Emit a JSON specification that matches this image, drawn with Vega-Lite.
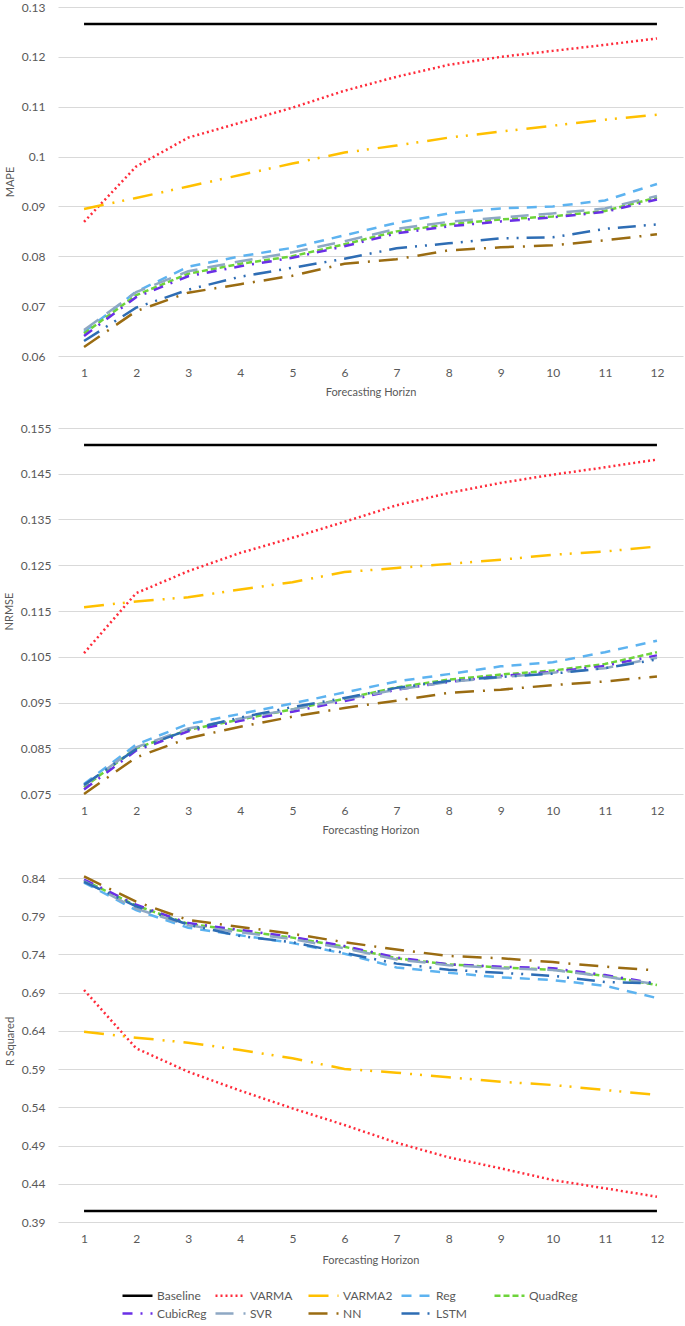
{
"$schema": "https://vega.github.io/schema/vega-lite/v6.json",
"padding": {"left": 3, "top": 1, "right": 2, "bottom": 0},
"data": {"values": [
{"metric":"MAPE","model":"Baseline","h":1,"value":0.1266},{"metric":"MAPE","model":"Baseline","h":2,"value":0.1266},{"metric":"MAPE","model":"Baseline","h":3,"value":0.1266},{"metric":"MAPE","model":"Baseline","h":4,"value":0.1266},{"metric":"MAPE","model":"Baseline","h":5,"value":0.1266},{"metric":"MAPE","model":"Baseline","h":6,"value":0.1266},{"metric":"MAPE","model":"Baseline","h":7,"value":0.1266},{"metric":"MAPE","model":"Baseline","h":8,"value":0.1266},{"metric":"MAPE","model":"Baseline","h":9,"value":0.1266},{"metric":"MAPE","model":"Baseline","h":10,"value":0.1266},{"metric":"MAPE","model":"Baseline","h":11,"value":0.1266},{"metric":"MAPE","model":"Baseline","h":12,"value":0.1266},
{"metric":"MAPE","model":"VARMA","h":1,"value":0.0869},{"metric":"MAPE","model":"VARMA","h":2,"value":0.0980},{"metric":"MAPE","model":"VARMA","h":3,"value":0.1038},{"metric":"MAPE","model":"VARMA","h":4,"value":0.1068},{"metric":"MAPE","model":"VARMA","h":5,"value":0.1098},{"metric":"MAPE","model":"VARMA","h":6,"value":0.1132},{"metric":"MAPE","model":"VARMA","h":7,"value":0.1160},{"metric":"MAPE","model":"VARMA","h":8,"value":0.1184},{"metric":"MAPE","model":"VARMA","h":9,"value":0.1200},{"metric":"MAPE","model":"VARMA","h":10,"value":0.1212},{"metric":"MAPE","model":"VARMA","h":11,"value":0.1224},{"metric":"MAPE","model":"VARMA","h":12,"value":0.1237},
{"metric":"MAPE","model":"VARMA2","h":1,"value":0.0895},{"metric":"MAPE","model":"VARMA2","h":2,"value":0.0917},{"metric":"MAPE","model":"VARMA2","h":3,"value":0.0940},{"metric":"MAPE","model":"VARMA2","h":4,"value":0.0963},{"metric":"MAPE","model":"VARMA2","h":5,"value":0.0986},{"metric":"MAPE","model":"VARMA2","h":6,"value":0.1008},{"metric":"MAPE","model":"VARMA2","h":7,"value":0.1022},{"metric":"MAPE","model":"VARMA2","h":8,"value":0.1038},{"metric":"MAPE","model":"VARMA2","h":9,"value":0.1050},{"metric":"MAPE","model":"VARMA2","h":10,"value":0.1062},{"metric":"MAPE","model":"VARMA2","h":11,"value":0.1074},{"metric":"MAPE","model":"VARMA2","h":12,"value":0.1084},
{"metric":"MAPE","model":"Reg","h":1,"value":0.0648},{"metric":"MAPE","model":"Reg","h":2,"value":0.0729},{"metric":"MAPE","model":"Reg","h":3,"value":0.0779},{"metric":"MAPE","model":"Reg","h":4,"value":0.0800},{"metric":"MAPE","model":"Reg","h":5,"value":0.0817},{"metric":"MAPE","model":"Reg","h":6,"value":0.0842},{"metric":"MAPE","model":"Reg","h":7,"value":0.0867},{"metric":"MAPE","model":"Reg","h":8,"value":0.0886},{"metric":"MAPE","model":"Reg","h":9,"value":0.0896},{"metric":"MAPE","model":"Reg","h":10,"value":0.0900},{"metric":"MAPE","model":"Reg","h":11,"value":0.0912},{"metric":"MAPE","model":"Reg","h":12,"value":0.0945},
{"metric":"MAPE","model":"QuadReg","h":1,"value":0.0645},{"metric":"MAPE","model":"QuadReg","h":2,"value":0.0722},{"metric":"MAPE","model":"QuadReg","h":3,"value":0.0765},{"metric":"MAPE","model":"QuadReg","h":4,"value":0.0785},{"metric":"MAPE","model":"QuadReg","h":5,"value":0.0800},{"metric":"MAPE","model":"QuadReg","h":6,"value":0.0824},{"metric":"MAPE","model":"QuadReg","h":7,"value":0.0850},{"metric":"MAPE","model":"QuadReg","h":8,"value":0.0864},{"metric":"MAPE","model":"QuadReg","h":9,"value":0.0874},{"metric":"MAPE","model":"QuadReg","h":10,"value":0.0880},{"metric":"MAPE","model":"QuadReg","h":11,"value":0.0891},{"metric":"MAPE","model":"QuadReg","h":12,"value":0.0918},
{"metric":"MAPE","model":"CubicReg","h":1,"value":0.0640},{"metric":"MAPE","model":"CubicReg","h":2,"value":0.0718},{"metric":"MAPE","model":"CubicReg","h":3,"value":0.0760},{"metric":"MAPE","model":"CubicReg","h":4,"value":0.0780},{"metric":"MAPE","model":"CubicReg","h":5,"value":0.0797},{"metric":"MAPE","model":"CubicReg","h":6,"value":0.0820},{"metric":"MAPE","model":"CubicReg","h":7,"value":0.0846},{"metric":"MAPE","model":"CubicReg","h":8,"value":0.0860},{"metric":"MAPE","model":"CubicReg","h":9,"value":0.0870},{"metric":"MAPE","model":"CubicReg","h":10,"value":0.0878},{"metric":"MAPE","model":"CubicReg","h":11,"value":0.0889},{"metric":"MAPE","model":"CubicReg","h":12,"value":0.0914},
{"metric":"MAPE","model":"SVR","h":1,"value":0.0652},{"metric":"MAPE","model":"SVR","h":2,"value":0.0728},{"metric":"MAPE","model":"SVR","h":3,"value":0.0770},{"metric":"MAPE","model":"SVR","h":4,"value":0.0790},{"metric":"MAPE","model":"SVR","h":5,"value":0.0808},{"metric":"MAPE","model":"SVR","h":6,"value":0.0830},{"metric":"MAPE","model":"SVR","h":7,"value":0.0855},{"metric":"MAPE","model":"SVR","h":8,"value":0.0869},{"metric":"MAPE","model":"SVR","h":9,"value":0.0878},{"metric":"MAPE","model":"SVR","h":10,"value":0.0886},{"metric":"MAPE","model":"SVR","h":11,"value":0.0896},{"metric":"MAPE","model":"SVR","h":12,"value":0.0921},
{"metric":"MAPE","model":"NN","h":1,"value":0.0618},{"metric":"MAPE","model":"NN","h":2,"value":0.0690},{"metric":"MAPE","model":"NN","h":3,"value":0.0727},{"metric":"MAPE","model":"NN","h":4,"value":0.0744},{"metric":"MAPE","model":"NN","h":5,"value":0.0761},{"metric":"MAPE","model":"NN","h":6,"value":0.0785},{"metric":"MAPE","model":"NN","h":7,"value":0.0794},{"metric":"MAPE","model":"NN","h":8,"value":0.0812},{"metric":"MAPE","model":"NN","h":9,"value":0.0818},{"metric":"MAPE","model":"NN","h":10,"value":0.0822},{"metric":"MAPE","model":"NN","h":11,"value":0.0832},{"metric":"MAPE","model":"NN","h":12,"value":0.0844},
{"metric":"MAPE","model":"LSTM","h":1,"value":0.0630},{"metric":"MAPE","model":"LSTM","h":2,"value":0.0697},{"metric":"MAPE","model":"LSTM","h":3,"value":0.0733},{"metric":"MAPE","model":"LSTM","h":4,"value":0.0759},{"metric":"MAPE","model":"LSTM","h":5,"value":0.0777},{"metric":"MAPE","model":"LSTM","h":6,"value":0.0795},{"metric":"MAPE","model":"LSTM","h":7,"value":0.0816},{"metric":"MAPE","model":"LSTM","h":8,"value":0.0826},{"metric":"MAPE","model":"LSTM","h":9,"value":0.0836},{"metric":"MAPE","model":"LSTM","h":10,"value":0.0838},{"metric":"MAPE","model":"LSTM","h":11,"value":0.0855},{"metric":"MAPE","model":"LSTM","h":12,"value":0.0864},
{"metric":"NRMSE","model":"Baseline","h":1,"value":0.1513},{"metric":"NRMSE","model":"Baseline","h":2,"value":0.1513},{"metric":"NRMSE","model":"Baseline","h":3,"value":0.1513},{"metric":"NRMSE","model":"Baseline","h":4,"value":0.1513},{"metric":"NRMSE","model":"Baseline","h":5,"value":0.1513},{"metric":"NRMSE","model":"Baseline","h":6,"value":0.1513},{"metric":"NRMSE","model":"Baseline","h":7,"value":0.1513},{"metric":"NRMSE","model":"Baseline","h":8,"value":0.1513},{"metric":"NRMSE","model":"Baseline","h":9,"value":0.1513},{"metric":"NRMSE","model":"Baseline","h":10,"value":0.1513},{"metric":"NRMSE","model":"Baseline","h":11,"value":0.1513},{"metric":"NRMSE","model":"Baseline","h":12,"value":0.1513},
{"metric":"NRMSE","model":"VARMA","h":1,"value":0.1058},{"metric":"NRMSE","model":"VARMA","h":2,"value":0.1189},{"metric":"NRMSE","model":"VARMA","h":3,"value":0.1237},{"metric":"NRMSE","model":"VARMA","h":4,"value":0.1277},{"metric":"NRMSE","model":"VARMA","h":5,"value":0.1310},{"metric":"NRMSE","model":"VARMA","h":6,"value":0.1345},{"metric":"NRMSE","model":"VARMA","h":7,"value":0.1381},{"metric":"NRMSE","model":"VARMA","h":8,"value":0.1408},{"metric":"NRMSE","model":"VARMA","h":9,"value":0.1430},{"metric":"NRMSE","model":"VARMA","h":10,"value":0.1448},{"metric":"NRMSE","model":"VARMA","h":11,"value":0.1464},{"metric":"NRMSE","model":"VARMA","h":12,"value":0.1481},
{"metric":"NRMSE","model":"VARMA2","h":1,"value":0.1158},{"metric":"NRMSE","model":"VARMA2","h":2,"value":0.1171},{"metric":"NRMSE","model":"VARMA2","h":3,"value":0.1180},{"metric":"NRMSE","model":"VARMA2","h":4,"value":0.1197},{"metric":"NRMSE","model":"VARMA2","h":5,"value":0.1213},{"metric":"NRMSE","model":"VARMA2","h":6,"value":0.1235},{"metric":"NRMSE","model":"VARMA2","h":7,"value":0.1244},{"metric":"NRMSE","model":"VARMA2","h":8,"value":0.1253},{"metric":"NRMSE","model":"VARMA2","h":9,"value":0.1262},{"metric":"NRMSE","model":"VARMA2","h":10,"value":0.1273},{"metric":"NRMSE","model":"VARMA2","h":11,"value":0.1280},{"metric":"NRMSE","model":"VARMA2","h":12,"value":0.1291},
{"metric":"NRMSE","model":"Reg","h":1,"value":0.0772},{"metric":"NRMSE","model":"Reg","h":2,"value":0.0858},{"metric":"NRMSE","model":"Reg","h":3,"value":0.0903},{"metric":"NRMSE","model":"Reg","h":4,"value":0.0925},{"metric":"NRMSE","model":"Reg","h":5,"value":0.0948},{"metric":"NRMSE","model":"Reg","h":6,"value":0.0972},{"metric":"NRMSE","model":"Reg","h":7,"value":0.0996},{"metric":"NRMSE","model":"Reg","h":8,"value":0.1012},{"metric":"NRMSE","model":"Reg","h":9,"value":0.1029},{"metric":"NRMSE","model":"Reg","h":10,"value":0.1038},{"metric":"NRMSE","model":"Reg","h":11,"value":0.1060},{"metric":"NRMSE","model":"Reg","h":12,"value":0.1085},
{"metric":"NRMSE","model":"QuadReg","h":1,"value":0.0765},{"metric":"NRMSE","model":"QuadReg","h":2,"value":0.0850},{"metric":"NRMSE","model":"QuadReg","h":3,"value":0.0890},{"metric":"NRMSE","model":"QuadReg","h":4,"value":0.0913},{"metric":"NRMSE","model":"QuadReg","h":5,"value":0.0935},{"metric":"NRMSE","model":"QuadReg","h":6,"value":0.0958},{"metric":"NRMSE","model":"QuadReg","h":7,"value":0.0983},{"metric":"NRMSE","model":"QuadReg","h":8,"value":0.1000},{"metric":"NRMSE","model":"QuadReg","h":9,"value":0.1011},{"metric":"NRMSE","model":"QuadReg","h":10,"value":0.1020},{"metric":"NRMSE","model":"QuadReg","h":11,"value":0.1034},{"metric":"NRMSE","model":"QuadReg","h":12,"value":0.1060},
{"metric":"NRMSE","model":"CubicReg","h":1,"value":0.0760},{"metric":"NRMSE","model":"CubicReg","h":2,"value":0.0845},{"metric":"NRMSE","model":"CubicReg","h":3,"value":0.0887},{"metric":"NRMSE","model":"CubicReg","h":4,"value":0.0910},{"metric":"NRMSE","model":"CubicReg","h":5,"value":0.0930},{"metric":"NRMSE","model":"CubicReg","h":6,"value":0.0953},{"metric":"NRMSE","model":"CubicReg","h":7,"value":0.0978},{"metric":"NRMSE","model":"CubicReg","h":8,"value":0.0995},{"metric":"NRMSE","model":"CubicReg","h":9,"value":0.1008},{"metric":"NRMSE","model":"CubicReg","h":10,"value":0.1017},{"metric":"NRMSE","model":"CubicReg","h":11,"value":0.1030},{"metric":"NRMSE","model":"CubicReg","h":12,"value":0.1053},
{"metric":"NRMSE","model":"SVR","h":1,"value":0.0768},{"metric":"NRMSE","model":"SVR","h":2,"value":0.0852},{"metric":"NRMSE","model":"SVR","h":3,"value":0.0893},{"metric":"NRMSE","model":"SVR","h":4,"value":0.0915},{"metric":"NRMSE","model":"SVR","h":5,"value":0.0935},{"metric":"NRMSE","model":"SVR","h":6,"value":0.0957},{"metric":"NRMSE","model":"SVR","h":7,"value":0.0978},{"metric":"NRMSE","model":"SVR","h":8,"value":0.0995},{"metric":"NRMSE","model":"SVR","h":9,"value":0.1005},{"metric":"NRMSE","model":"SVR","h":10,"value":0.1015},{"metric":"NRMSE","model":"SVR","h":11,"value":0.1025},{"metric":"NRMSE","model":"SVR","h":12,"value":0.1048},
{"metric":"NRMSE","model":"NN","h":1,"value":0.0750},{"metric":"NRMSE","model":"NN","h":2,"value":0.0830},{"metric":"NRMSE","model":"NN","h":3,"value":0.0872},{"metric":"NRMSE","model":"NN","h":4,"value":0.0897},{"metric":"NRMSE","model":"NN","h":5,"value":0.0919},{"metric":"NRMSE","model":"NN","h":6,"value":0.0938},{"metric":"NRMSE","model":"NN","h":7,"value":0.0954},{"metric":"NRMSE","model":"NN","h":8,"value":0.0971},{"metric":"NRMSE","model":"NN","h":9,"value":0.0978},{"metric":"NRMSE","model":"NN","h":10,"value":0.0988},{"metric":"NRMSE","model":"NN","h":11,"value":0.0996},{"metric":"NRMSE","model":"NN","h":12,"value":0.1007},
{"metric":"NRMSE","model":"LSTM","h":1,"value":0.0770},{"metric":"NRMSE","model":"LSTM","h":2,"value":0.0848},{"metric":"NRMSE","model":"LSTM","h":3,"value":0.0890},{"metric":"NRMSE","model":"LSTM","h":4,"value":0.0917},{"metric":"NRMSE","model":"LSTM","h":5,"value":0.0940},{"metric":"NRMSE","model":"LSTM","h":6,"value":0.0960},{"metric":"NRMSE","model":"LSTM","h":7,"value":0.0982},{"metric":"NRMSE","model":"LSTM","h":8,"value":0.0997},{"metric":"NRMSE","model":"LSTM","h":9,"value":0.1006},{"metric":"NRMSE","model":"LSTM","h":10,"value":0.1013},{"metric":"NRMSE","model":"LSTM","h":11,"value":0.1025},{"metric":"NRMSE","model":"LSTM","h":12,"value":0.1044},
{"metric":"R2","model":"Baseline","h":1,"value":0.4045},{"metric":"R2","model":"Baseline","h":2,"value":0.4045},{"metric":"R2","model":"Baseline","h":3,"value":0.4045},{"metric":"R2","model":"Baseline","h":4,"value":0.4045},{"metric":"R2","model":"Baseline","h":5,"value":0.4045},{"metric":"R2","model":"Baseline","h":6,"value":0.4045},{"metric":"R2","model":"Baseline","h":7,"value":0.4045},{"metric":"R2","model":"Baseline","h":8,"value":0.4045},{"metric":"R2","model":"Baseline","h":9,"value":0.4045},{"metric":"R2","model":"Baseline","h":10,"value":0.4045},{"metric":"R2","model":"Baseline","h":11,"value":0.4045},{"metric":"R2","model":"Baseline","h":12,"value":0.4045},
{"metric":"R2","model":"VARMA","h":1,"value":0.6935},{"metric":"R2","model":"VARMA","h":2,"value":0.6172},{"metric":"R2","model":"VARMA","h":3,"value":0.5866},{"metric":"R2","model":"VARMA","h":4,"value":0.5618},{"metric":"R2","model":"VARMA","h":5,"value":0.5387},{"metric":"R2","model":"VARMA","h":6,"value":0.5169},{"metric":"R2","model":"VARMA","h":7,"value":0.4937},{"metric":"R2","model":"VARMA","h":8,"value":0.4746},{"metric":"R2","model":"VARMA","h":9,"value":0.4602},{"metric":"R2","model":"VARMA","h":10,"value":0.4449},{"metric":"R2","model":"VARMA","h":11,"value":0.4341},{"metric":"R2","model":"VARMA","h":12,"value":0.4231},
{"metric":"R2","model":"VARMA2","h":1,"value":0.6390},{"metric":"R2","model":"VARMA2","h":2,"value":0.6311},{"metric":"R2","model":"VARMA2","h":3,"value":0.6246},{"metric":"R2","model":"VARMA2","h":4,"value":0.6150},{"metric":"R2","model":"VARMA2","h":5,"value":0.6041},{"metric":"R2","model":"VARMA2","h":6,"value":0.5902},{"metric":"R2","model":"VARMA2","h":7,"value":0.5853},{"metric":"R2","model":"VARMA2","h":8,"value":0.5793},{"metric":"R2","model":"VARMA2","h":9,"value":0.5735},{"metric":"R2","model":"VARMA2","h":10,"value":0.5692},{"metric":"R2","model":"VARMA2","h":11,"value":0.5627},{"metric":"R2","model":"VARMA2","h":12,"value":0.5561},
{"metric":"R2","model":"Reg","h":1,"value":0.834},{"metric":"R2","model":"Reg","h":2,"value":0.798},{"metric":"R2","model":"Reg","h":3,"value":0.775},{"metric":"R2","model":"Reg","h":4,"value":0.765},{"metric":"R2","model":"Reg","h":5,"value":0.755},{"metric":"R2","model":"Reg","h":6,"value":0.741},{"metric":"R2","model":"Reg","h":7,"value":0.723},{"metric":"R2","model":"Reg","h":8,"value":0.716},{"metric":"R2","model":"Reg","h":9,"value":0.710},{"metric":"R2","model":"Reg","h":10,"value":0.7065},{"metric":"R2","model":"Reg","h":11,"value":0.699},{"metric":"R2","model":"Reg","h":12,"value":0.683},
{"metric":"R2","model":"QuadReg","h":1,"value":0.837},{"metric":"R2","model":"QuadReg","h":2,"value":0.804},{"metric":"R2","model":"QuadReg","h":3,"value":0.780},{"metric":"R2","model":"QuadReg","h":4,"value":0.771},{"metric":"R2","model":"QuadReg","h":5,"value":0.762},{"metric":"R2","model":"QuadReg","h":6,"value":0.750},{"metric":"R2","model":"QuadReg","h":7,"value":0.735},{"metric":"R2","model":"QuadReg","h":8,"value":0.727},{"metric":"R2","model":"QuadReg","h":9,"value":0.723},{"metric":"R2","model":"QuadReg","h":10,"value":0.720},{"metric":"R2","model":"QuadReg","h":11,"value":0.712},{"metric":"R2","model":"QuadReg","h":12,"value":0.700},
{"metric":"R2","model":"CubicReg","h":1,"value":0.838},{"metric":"R2","model":"CubicReg","h":2,"value":0.805},{"metric":"R2","model":"CubicReg","h":3,"value":0.781},{"metric":"R2","model":"CubicReg","h":4,"value":0.772},{"metric":"R2","model":"CubicReg","h":5,"value":0.763},{"metric":"R2","model":"CubicReg","h":6,"value":0.751},{"metric":"R2","model":"CubicReg","h":7,"value":0.736},{"metric":"R2","model":"CubicReg","h":8,"value":0.727},{"metric":"R2","model":"CubicReg","h":9,"value":0.724},{"metric":"R2","model":"CubicReg","h":10,"value":0.722},{"metric":"R2","model":"CubicReg","h":11,"value":0.713},{"metric":"R2","model":"CubicReg","h":12,"value":0.702},
{"metric":"R2","model":"SVR","h":1,"value":0.836},{"metric":"R2","model":"SVR","h":2,"value":0.800},{"metric":"R2","model":"SVR","h":3,"value":0.778},{"metric":"R2","model":"SVR","h":4,"value":0.769},{"metric":"R2","model":"SVR","h":5,"value":0.760},{"metric":"R2","model":"SVR","h":6,"value":0.748},{"metric":"R2","model":"SVR","h":7,"value":0.7335},{"metric":"R2","model":"SVR","h":8,"value":0.726},{"metric":"R2","model":"SVR","h":9,"value":0.722},{"metric":"R2","model":"SVR","h":10,"value":0.7196},{"metric":"R2","model":"SVR","h":11,"value":0.711},{"metric":"R2","model":"SVR","h":12,"value":0.701},
{"metric":"R2","model":"NN","h":1,"value":0.842},{"metric":"R2","model":"NN","h":2,"value":0.809},{"metric":"R2","model":"NN","h":3,"value":0.785},{"metric":"R2","model":"NN","h":4,"value":0.776},{"metric":"R2","model":"NN","h":5,"value":0.767},{"metric":"R2","model":"NN","h":6,"value":0.756},{"metric":"R2","model":"NN","h":7,"value":0.7465},{"metric":"R2","model":"NN","h":8,"value":0.738},{"metric":"R2","model":"NN","h":9,"value":0.735},{"metric":"R2","model":"NN","h":10,"value":0.730},{"metric":"R2","model":"NN","h":11,"value":0.724},{"metric":"R2","model":"NN","h":12,"value":0.719},
{"metric":"R2","model":"LSTM","h":1,"value":0.835},{"metric":"R2","model":"LSTM","h":2,"value":0.803},{"metric":"R2","model":"LSTM","h":3,"value":0.779},{"metric":"R2","model":"LSTM","h":4,"value":0.764},{"metric":"R2","model":"LSTM","h":5,"value":0.756},{"metric":"R2","model":"LSTM","h":6,"value":0.742},{"metric":"R2","model":"LSTM","h":7,"value":0.728},{"metric":"R2","model":"LSTM","h":8,"value":0.720},{"metric":"R2","model":"LSTM","h":9,"value":0.716},{"metric":"R2","model":"LSTM","h":10,"value":0.712},{"metric":"R2","model":"LSTM","h":11,"value":0.704},{"metric":"R2","model":"LSTM","h":12,"value":0.702}
]},
"columns": 1,
"align": "none",
"spacing": 25,
"concat": [
{
 "width": 625, "height": 349,
 "transform": [{"filter": {"field": "metric", "equal": "MAPE"}}],
 "mark": {"type": "line", "strokeWidth": 2.5},
 "encoding": {
  "x": {"field": "h", "type": "ordinal", "scale": {"type": "point", "padding": 0.5}, "axis": {"title": "Forecasting Horizn"}},
  "y": {"field": "value", "type": "quantitative", "scale": {"domain": [0.06, 0.13], "nice": false, "zero": false}, "axis": {"title": "MAPE", "values": [0.06, 0.07, 0.08, 0.09, 0.1, 0.11, 0.12, 0.13], "format": ".4~g"}},
  "color": {"field": "model", "type": "nominal", "scale": {"domain": ["Baseline","VARMA","VARMA2","Reg","QuadReg","CubicReg","SVR","NN","LSTM"], "range": ["#000000","#FF2B3A","#FFC000","#5DB3F0","#6DD43A","#6A2FE6","#8EA8C4","#9A6C12","#2E6DB4"]}, "legend": {"title": null, "symbolType": "M-1.5,0H1.5", "direction": "horizontal"}},
  "strokeDash": {"field": "model", "type": "nominal", "scale": {"domain": ["Baseline","VARMA","VARMA2","Reg","QuadReg","CubicReg","SVR","NN","LSTM"], "range": [[1,0],[2,3],[20,9,2,8,2,9],[10,8],[6,3],[10,8,2,8],[18,10],[19,9,2,9],[18,8,2,8,2,8]]}, "legend": {"title": null, "symbolType": "M-1.5,0H1.5", "direction": "horizontal"}}
 }
},
{
 "width": 625, "height": 366,
 "transform": [{"filter": {"field": "metric", "equal": "NRMSE"}}],
 "mark": {"type": "line", "strokeWidth": 2.5},
 "encoding": {
  "x": {"field": "h", "type": "ordinal", "scale": {"type": "point", "padding": 0.5}, "axis": {"title": "Forecasting Horizon"}},
  "y": {"field": "value", "type": "quantitative", "scale": {"domain": [0.075, 0.155], "nice": false, "zero": false}, "axis": {"title": "NRMSE", "labelPadding": 7, "values": [0.075, 0.085, 0.095, 0.105, 0.115, 0.125, 0.135, 0.145, 0.155], "format": ".4~g"}},
  "color": {"field": "model", "type": "nominal", "scale": {"domain": ["Baseline","VARMA","VARMA2","Reg","QuadReg","CubicReg","SVR","NN","LSTM"], "range": ["#000000","#FF2B3A","#FFC000","#5DB3F0","#6DD43A","#6A2FE6","#8EA8C4","#9A6C12","#2E6DB4"]}, "legend": {"title": null, "symbolType": "M-1.5,0H1.5", "direction": "horizontal"}},
  "strokeDash": {"field": "model", "type": "nominal", "scale": {"domain": ["Baseline","VARMA","VARMA2","Reg","QuadReg","CubicReg","SVR","NN","LSTM"], "range": [[1,0],[2,3],[20,9,2,8,2,9],[10,8],[6,3],[10,8,2,8],[18,10],[19,9,2,9],[18,8,2,8,2,8]]}, "legend": {"title": null, "symbolType": "M-1.5,0H1.5", "direction": "horizontal"}}
 }
},
{
 "width": 625, "height": 362,
 "transform": [{"filter": {"field": "metric", "equal": "R2"}}],
 "mark": {"type": "line", "strokeWidth": 2.5},
 "encoding": {
  "x": {"field": "h", "type": "ordinal", "scale": {"type": "point", "padding": 0.5}, "axis": {"title": "Forecasting Horizon", "titlePadding": 10}},
  "y": {"field": "value", "type": "quantitative", "scale": {"domain": [0.39, 0.86355], "nice": false, "zero": false}, "axis": {"title": "R Squared", "values": [0.39, 0.44, 0.49, 0.54, 0.59, 0.64, 0.69, 0.74, 0.79, 0.84], "format": ".4~g"}},
  "color": {"field": "model", "type": "nominal", "scale": {"domain": ["Baseline","VARMA","VARMA2","Reg","QuadReg","CubicReg","SVR","NN","LSTM"], "range": ["#000000","#FF2B3A","#FFC000","#5DB3F0","#6DD43A","#6A2FE6","#8EA8C4","#9A6C12","#2E6DB4"]}, "legend": {"title": null, "symbolType": "M-1.5,0H1.5", "direction": "horizontal"}},
  "strokeDash": {"field": "model", "type": "nominal", "scale": {"domain": ["Baseline","VARMA","VARMA2","Reg","QuadReg","CubicReg","SVR","NN","LSTM"], "range": [[1,0],[2,3],[20,9,2,8,2,9],[10,8],[6,3],[10,8,2,8],[18,10],[19,9,2,9],[18,8,2,8,2,8]]}, "legend": {"title": null, "symbolType": "M-1.5,0H1.5", "direction": "horizontal"}}
 }
}
],
"config": {
 "font": "Lato",
 "view": {"stroke": null},
 "axis": {"labelFont": "Lato", "labelFontSize": 12, "labelColor": "#595959", "titleFont": "Lato", "titleFontSize": 11, "titleFontWeight": "normal", "titleColor": "#595959", "domain": false, "ticks": false},
 "axisY": {"grid": true, "gridColor": "#D9D9D9", "gridWidth": 1, "labelPadding": 13, "titlePadding": 6},
 "axisX": {"grid": false, "labelAngle": 0, "labelPadding": 11, "titlePadding": 8},
 "legend": {"orient": "none", "legendX": 68, "legendY": 1277, "direction": "horizontal", "columns": 5, "symbolSize": 400, "symbolStrokeWidth": 2.5, "labelFont": "Lato", "labelFontSize": 12, "labelColor": "#595959", "labelOffset": 8, "columnPadding": 3, "rowPadding": 0, "gridAlign": "all", "padding": 0}
}
}
